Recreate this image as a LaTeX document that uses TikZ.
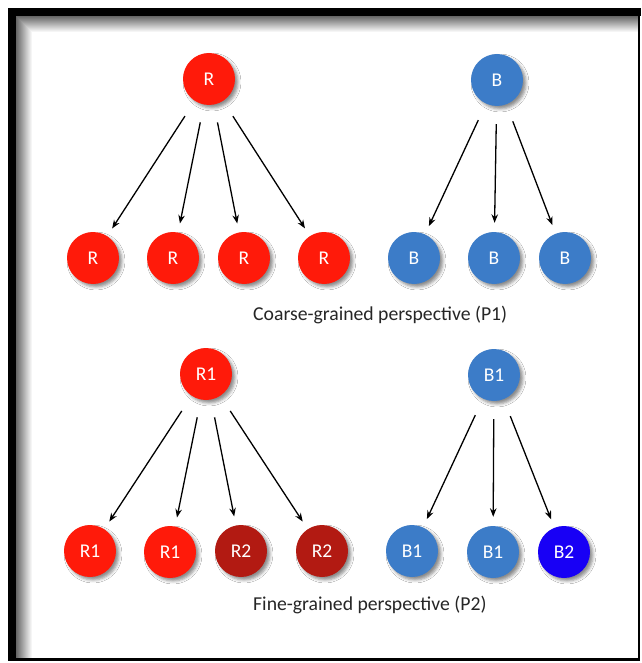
\documentclass[tikz,border=0pt]{standalone}
\usepackage{fontspec}
\setmainfont{Carlito}
\usetikzlibrary{arrows.meta,shadows.blur}
\definecolor{rred}{RGB}{255,26,10}
\definecolor{dred}{RGB}{178,26,18}
\definecolor{bblue}{RGB}{60,124,200}
\definecolor{dblue}{RGB}{24,0,245}
\begin{document}
\begin{tikzpicture}[x=1pt,y=-1pt,
  ball/.style={circle, minimum size=52pt, inner sep=0pt, text=white,
    font=\fontsize{19.5}{19.5}\selectfont,
    blur shadow={shadow xshift=3pt, shadow yshift=-3pt, shadow blur radius=3pt, shadow opacity=45}},
  redball/.style={ball, fill=rred},
  darkredball/.style={ball, fill=dred},
  blueball/.style={ball, fill=bblue},
  darkblueball/.style={ball, fill=dblue},
  conn/.style={-{Stealth[length=8.5pt,width=6.5pt]}, line width=1.3pt, shorten <=18pt, shorten >=9pt},
  caption/.style={anchor=west, inner sep=0pt, font=\fontsize{19.7}{20}\selectfont, text=black!85}
]
\useasboundingbox (0,0) rectangle (641,663);
\fill[white] (0,0) rectangle (641,663);
% frame inner shadow (manual gradient)
\foreach \i in {0,...,15} {
  \pgfmathsetmacro{\op}{0.6*(1-\i/16)}
  \fill[black, opacity=\op] (15.5+\i,16+\i) rectangle (638,17+\i);
  \fill[black, opacity=\op] (15.5+\i,17+\i) rectangle (16.5+\i,657.5);
}
\fill[black] (7.5,8) rectangle (641,16);
\fill[black] (7.5,8) rectangle (15.5,660.5);
\fill[black] (7.5,657.5) rectangle (640,660.5);
\fill[black] (638,8) rectangle (640.2,660.5);

% P1
\node[redball] (R) at (209,79) {R};
\node[blueball] (B) at (497,80) {B};
\node[redball] (r1) at (93,258) {R};
\node[redball] (r2) at (173,258) {R};
\node[redball] (r3) at (244,258) {R};
\node[redball] (r4) at (324,258) {R};
\node[blueball] (b1) at (414,258) {B};
\node[blueball] (b2) at (494,258) {B};
\node[blueball] (b3) at (565,258) {B};
\foreach \t in {r1,r2,r3,r4} \draw[conn] (R) -- (\t);
\foreach \t in {b1,b2,b3} \draw[conn] (B) -- (\t);
\node[caption] (cap1) at (253,315) {Coarse-grained perspective (P1)};

% P2
\node[redball] (R1) at (206,374) {R1};
\node[blueball] (B1) at (494,375) {B1};
\node[redball] (s1) at (90,551) {R1};
\node[redball] (s2) at (170,552) {R1};
\node[darkredball] (s3) at (241,551) {R2};
\node[darkredball] (s4) at (322,551) {R2};
\node[blueball] (t1) at (412,551) {B1};
\node[blueball] (t2) at (493,552) {B1};
\node[darkblueball] (t3) at (564,552) {B2};
\foreach \t in {s1,s2,s3,s4} \draw[conn] (R1) -- (\t);
\foreach \t in {t1,t2,t3} \draw[conn] (B1) -- (\t);
\node[caption] (cap2) at (253,605) {Fine-grained perspective (P2)};
\end{tikzpicture}
\end{document}
